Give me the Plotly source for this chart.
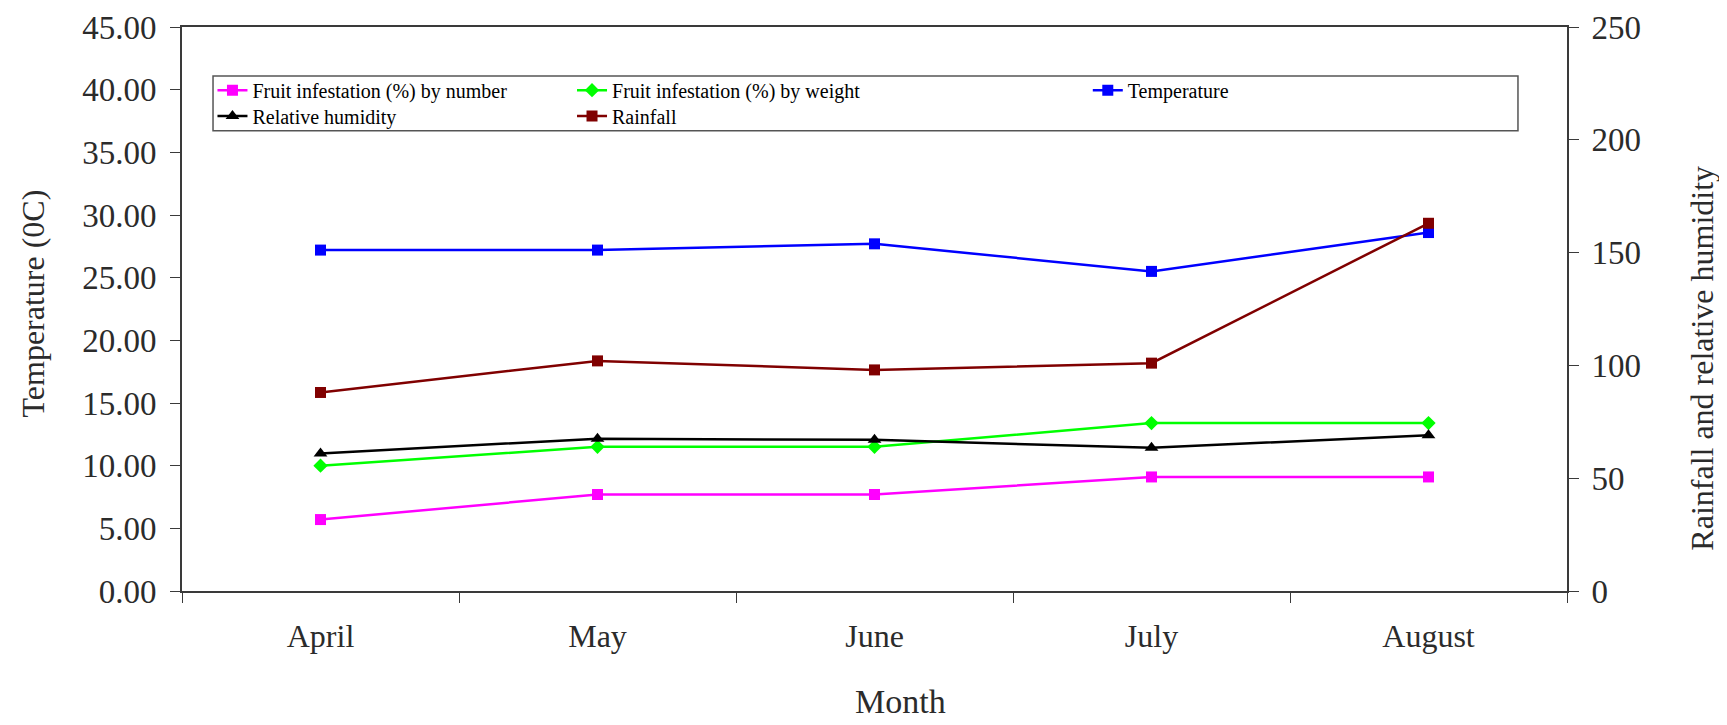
import plotly.graph_objects as go

months = ["April", "May", "June", "July", "August"]
infest_number = [5.7, 7.7, 7.7, 9.1, 9.1]
infest_weight = [10.0, 11.5, 11.5, 13.4, 13.4]
temperature = [27.2, 27.2, 27.7, 25.5, 28.6]
rel_humidity = [61.0, 67.5, 67.0, 63.5, 69.0]
rainfall = [88.0, 102.0, 98.0, 101.0, 163.0]

left_ticks = [0, 5, 10, 15, 20, 25, 30, 35, 40, 45]
right_ticks = [0, 50, 100, 150, 200, 250]

FONT = "Liberation Serif"
AX = "#3a3a3a"
TXT = "#2b2b2b"

fig = go.Figure()
fig.add_trace(go.Scatter(x=months, y=infest_number, name="Fruit infestation (%) by number",
                         mode="lines+markers", line=dict(color="#FF00FF", width=2.5),
                         marker=dict(symbol="square", size=11, color="#FF00FF"),
                         legend="legend"))
fig.add_trace(go.Scatter(x=months, y=infest_weight, name="Fruit infestation (%) by weight",
                         mode="lines+markers", line=dict(color="#00FF00", width=2.5),
                         marker=dict(symbol="diamond", size=11, color="#00FF00"),
                         legend="legend2"))
fig.add_trace(go.Scatter(x=months, y=temperature, name="Temperature",
                         mode="lines+markers", line=dict(color="#0000FF", width=2.5),
                         marker=dict(symbol="square", size=11, color="#0000FF"),
                         legend="legend3"))
fig.add_trace(go.Scatter(x=months, y=rel_humidity, name="Relative humidity", yaxis="y2",
                         mode="lines+markers", line=dict(color="#000000", width=2.5),
                         marker=dict(symbol="triangle-up", size=12, color="#000000"),
                         legend="legend4"))
fig.add_trace(go.Scatter(x=months, y=rainfall, name="Rainfall", yaxis="y2",
                         mode="lines+markers", line=dict(color="#800000", width=2.5),
                         marker=dict(symbol="square", size=11, color="#800000"),
                         legend="legend5"))

def leg(x, y):
    return dict(font=dict(family=FONT, size=20, color="black"), bgcolor="rgba(0,0,0,0)",
                borderwidth=0, xanchor="left", yanchor="middle", x=x, y=y,
                itemwidth=30, orientation="v")

row1, row2 = 0.888, 0.842
c1, c2, c3 = 0.022, 0.2816, 0.654

fig.update_layout(
    width=1727, height=725,
    margin=dict(l=174, r=168, t=19, b=142, autoexpand=False),
    paper_bgcolor="white", plot_bgcolor="white",
    font=dict(family=FONT, size=24, color=TXT),
    showlegend=True,
    legend=leg(c1, row1), legend2=leg(c2, row1), legend3=leg(c3, row1),
    legend4=leg(c1, row2), legend5=leg(c2, row2),
    xaxis=dict(type="category", categoryorder="array", categoryarray=months,
               range=[-0.5, 4.5], tickson="boundaries", ticks="outside", ticklen=10,
               tickcolor=AX, showline=True, linecolor=AX, linewidth=2,
               mirror=True, showgrid=False, zeroline=False, ticklabelstandoff=16,
               automargin=False,
               tickfont=dict(family=FONT, size=32, color=TXT)),
    yaxis=dict(range=[0, 45], tickvals=left_ticks, tickformat=".2f", ticks="outside",
               ticklen=10, tickcolor=AX, showline=True, linecolor=AX,
               linewidth=2, showgrid=False, zeroline=False, ticklabelstandoff=7,
               ticklabeloverflow="allow", automargin=False,
               tickfont=dict(family=FONT, size=33, color=TXT)),
    yaxis2=dict(range=[0, 250], tickvals=right_ticks, overlaying="y", side="right",
                ticks="outside", ticklen=10, tickcolor=AX, showline=True,
                linecolor=AX, linewidth=2, showgrid=False, zeroline=False,
                ticklabelstandoff=6, ticklabeloverflow="allow", automargin=False,
                tickfont=dict(family=FONT, size=33, color=TXT)),
    annotations=[
        dict(text="Month", xref="paper", yref="paper", x=0.519, y=-0.196,
             xanchor="center", yanchor="middle", showarrow=False,
             font=dict(family=FONT, size=34, color=TXT)),
        dict(text="Temperature (0C)", xref="paper", yref="paper", x=-0.1076, y=0.5097,
             xanchor="center", yanchor="middle", showarrow=False, textangle=-90,
             font=dict(family=FONT, size=32, color=TXT)),
        dict(text="Rainfall and relative humidity", xref="paper", yref="paper",
             x=1.0975, y=0.412, xanchor="center", yanchor="middle", showarrow=False,
             textangle=-90, font=dict(family=FONT, size=32, color=TXT)),
    ],
)

fig.add_shape(type="rect", xref="paper", yref="paper", x0=0.0224, x1=0.9646, y0=0.816, y1=0.913,
              line=dict(color="#555555", width=1.5), fillcolor="rgba(0,0,0,0)", layer="below")

fig.write_html("out.html")
